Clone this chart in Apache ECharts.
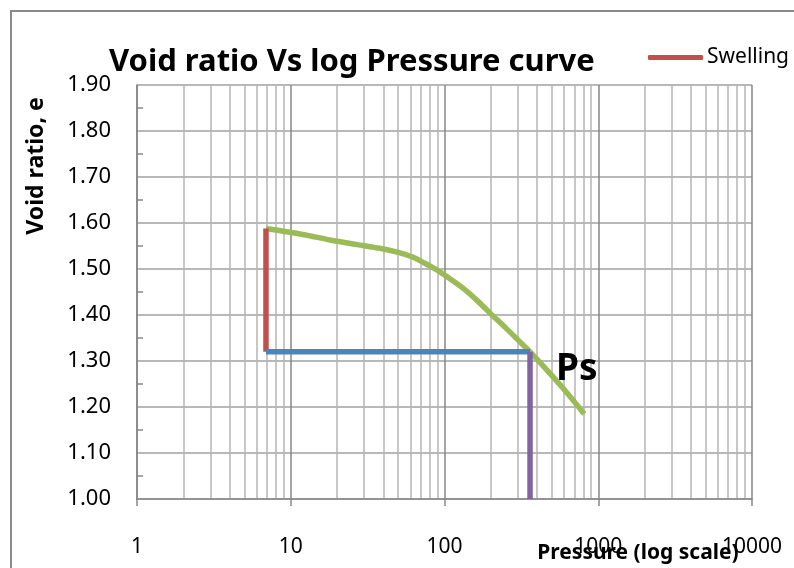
<!DOCTYPE html>
<html><head><meta charset="utf-8">
<script src="https://cdn.jsdelivr.net/npm/echarts@6/dist/echarts.min.js"></script>
<style>html,body{margin:0;padding:0;background:#fff}#c{width:794px;height:568px}</style>
</head><body><div id="c"></div>
<script>
const xTickLabels = [1, 10, 100, 1000, 10000];
const yTickLabels = ['1.00','1.10','1.20','1.30','1.40','1.50','1.60','1.70','1.80','1.90'];
const curvePressure = [6.9, 12, 18, 27, 38, 50, 62, 74, 88, 104, 130, 160, 198, 250, 300, 350, 450, 600, 810];
const curveVoid = [1.588, 1.575, 1.563, 1.553, 1.545, 1.536, 1.526, 1.513, 1.499, 1.483, 1.46, 1.434, 1.404, 1.372, 1.346, 1.324, 1.285, 1.238, 1.185];
const swellingPressure = [6.9, 6.9];
const swellingVoid = [1.32, 1.588];
const bluePressure = [6.9, 360];
const blueVoid = [1.32, 1.32];
const psPressure = [360, 360];
const psVoid = [1.0, 1.32];
const minorGrid = [2,3,4,5,6,7,8,9,20,30,40,50,60,70,80,90,200,300,400,500,600,700,800,900,2000,3000,4000,5000,6000,7000,8000,9000];

const FONT = 'Noto Sans';
const chart = echarts.init(document.getElementById('c'));
const zip = (a,b) => a.map((v,i)=>[v,b[i]]);
chart.setOption({
  animation:false,
  title:{text:'Void ratio Vs log Pressure curve', left:104, top:42,
    textStyle:{fontFamily:FONT, fontWeight:'bold', fontSize:31, color:'#000'}},
  legend:{data:['Swelling'], left:648, top:47, padding:0, itemWidth:55, itemHeight:5, itemGap:4,
    icon:'roundRect',
    textStyle:{fontFamily:FONT, fontSize:21, color:'#000', padding:[0,0,0,-1]}},
  grid:{left:137, right:42, top:85, bottom:69, containLabel:false, outerBoundsMode:'none'},
  xAxis:{type:'log', logBase:10, min:1, max:10000,
    axisLine:{lineStyle:{color:'#868686', width:1.5}},
    axisTick:{show:true, length:7, lineStyle:{color:'#868686', width:1.5}},
    axisLabel:{fontFamily:FONT, fontSize:21, color:'#000', margin:38,
      formatter:v=>String(Math.round(v))},
    splitLine:{show:true, lineStyle:{color:'#868686', width:1.5}}},
  yAxis:{type:'value', min:1.0, max:1.9, interval:0.1,
    axisLine:{show:true, lineStyle:{color:'#868686', width:1.5}},
    axisTick:{show:true, length:1, lineStyle:{color:'#868686'}},
    minorTick:{show:true, splitNumber:2, length:-6, lineStyle:{color:'#868686', width:1.5}},
    axisLabel:{fontFamily:FONT, fontSize:22, color:'#000', margin:26,
      formatter:v=>v.toFixed(2)},
    splitLine:{show:true, lineStyle:{color:'#a0a0a0', width:1.5}}},
  graphic:[
    {type:'polyline', shape:{points:[[11,568],[11,11],[794,11]]}, style:{stroke:'#8a8a8a', lineWidth:2, fill:null}, z:100},
    {type:'text', x:556, y:351, style:{text:'Ps', fontFamily:FONT, fontWeight:'bold', fontSize:37, fill:'#000'}, z:100},
    {type:'text', x:638, y:553, style:{text:'Pressure (log scale)', fontFamily:FONT, fontWeight:'bold', fontSize:21, fill:'#000', align:'center', verticalAlign:'middle'}, z:100},
    {type:'text', x:36, y:166, rotation:Math.PI/2, style:{text:'Void ratio, e', fontFamily:FONT, fontWeight:'bold', fontSize:23, fill:'#000', align:'center', verticalAlign:'middle'}, z:100}
  ],
  series:[
    {name:'grid', type:'line', data:[], silent:true, z:0,
      markLine:{silent:true, z:0, symbol:['none','none'], label:{show:false},
        lineStyle:{color:'#b4b4b4', width:1.5, type:'solid'},
        data:minorGrid.map(v=>({xAxis:v}))}},
    {name:'Curve', type:'line', data:zip(curvePressure, curveVoid), smooth:0.3, showSymbol:false,
      lineStyle:{color:'#9BBB59', width:5.5}, itemStyle:{color:'#9BBB59'}, z:6},
    {name:'Swelling', type:'line', data:zip(swellingPressure, swellingVoid), showSymbol:false,
      lineStyle:{color:'#C0504D', width:5.5}, itemStyle:{color:'#C0504D'}, z:6},
    {name:'Line', type:'line', data:zip(bluePressure, blueVoid), showSymbol:false,
      lineStyle:{color:'#4F81BD', width:5.5}, itemStyle:{color:'#4F81BD'}, z:6},
    {name:'Ps', type:'line', data:zip(psPressure, psVoid), showSymbol:false,
      lineStyle:{color:'#8064A2', width:5.5}, itemStyle:{color:'#8064A2'}, z:6}
  ]
});
</script></body></html>
